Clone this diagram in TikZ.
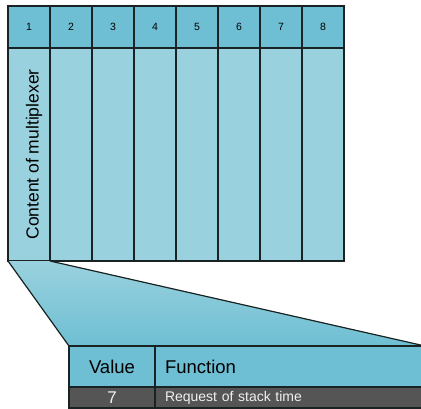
\documentclass[tikz,border=0pt]{standalone}
\usepackage{fontspec}
\setmainfont{Liberation Sans}
\usepackage{tikz}
\usetikzlibrary{positioning}
\definecolor{headblue}{RGB}{110,191,211}
\definecolor{bodyblue}{RGB}{154,209,222}
\definecolor{darkrow}{RGB}{85,85,85}
\definecolor{rowtext}{RGB}{240,240,240}
\definecolor{gridline}{RGB}{25,35,35}
\tikzset{
  head/.style={draw=gridline, line width=1.2pt, fill=headblue, outer sep=0pt, inner sep=0pt,
    minimum width=42pt, minimum height=42pt, font=\fontsize{10.5}{11}\selectfont},
  cell/.style={draw=gridline, line width=1.2pt, fill=bodyblue, outer sep=0pt, inner sep=0pt,
    minimum width=42pt, minimum height=213pt},
  vhead/.style={draw=gridline, line width=1.2pt, fill=headblue, outer sep=0pt, inner sep=0pt,
    minimum width=86pt, minimum height=41pt, font=\fontsize{18.5}{20}\selectfont},
  fhead/.style={vhead, text width=250pt, inner xsep=10pt, align=left},
  vrow/.style={draw=gridline, line width=1.2pt, fill=darkrow, text=rowtext, outer sep=0pt, inner sep=0pt,
    minimum width=86pt, minimum height=21pt, font=\fontsize{17}{18}\selectfont},
  frow/.style={vrow, text width=250pt, inner xsep=10pt, align=left, font=\fontsize{14}{15}\selectfont},
  edge/.style={draw=gridline, line width=1.2pt}
}
\begin{document}
\begin{tikzpicture}[x=1pt, y=-1pt]
  \clip (0,0) rectangle (421,408);
  \node[head] (h1) at (29,27) {1};
  \foreach \i [count=\j from 1] in {2,...,8}
    \node[head, right=0pt of h\j] (h\i) {\i};
  \node[cell, below=0pt of h1] (b1) {};
  \foreach \i [count=\j from 1] in {2,...,8}
    \node[cell, right=0pt of b\j] (b\i) {};
  \node[rotate=90, yshift=-5pt, font=\fontsize{17.5}{18}\selectfont] (mux) at (b1.center) {Content of multiplexer};

  \node[vhead] (vh) at (112,366.5) {Value};
  \node[fhead, right=0pt of vh] (fh) {Function};
  \node[vrow, below=0pt of vh] (vr) {7};
  \node[frow, below=0pt of fh] (fr) {Request of stack time};

  \fill[top color=bodyblue, bottom color=headblue] (b1.south west) -- (b1.south east) -- (fh.north east) -- (vh.north west) -- cycle;
  \draw[edge] (b1.south west) -- (vh.north west);
  \draw[edge] (b1.south east) -- (fh.north east);
  \draw[edge] (vh.north west) -- (fh.north east);
\end{tikzpicture}
\end{document}
